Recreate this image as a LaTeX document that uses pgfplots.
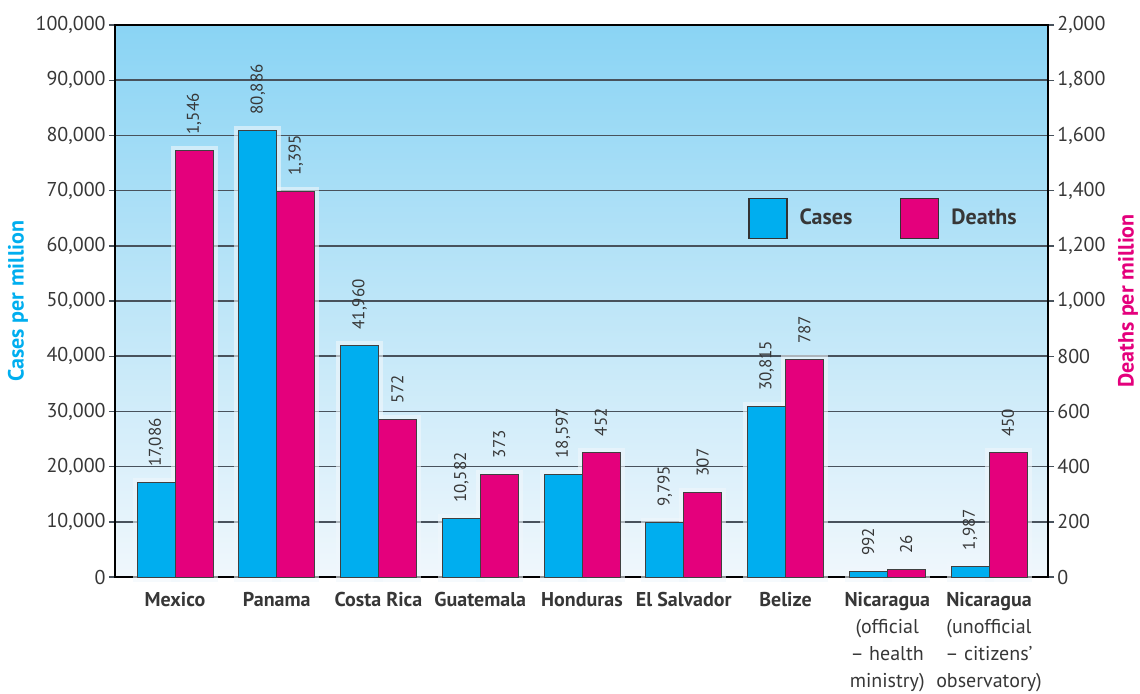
\documentclass[border=0pt]{standalone}
\usepackage{fontspec}
\setmainfont{PT Sans}
\usepackage{pgfplots}
\pgfplotsset{compat=1.18}
\definecolor{cyanbar}{RGB}{0,174,239}
\definecolor{magbar}{RGB}{228,0,124}
\definecolor{bgtop}{RGB}{138,212,244}
\definecolor{bgbot}{RGB}{240,247,252}
\definecolor{gridc}{RGB}{72,82,92}
\definecolor{labc}{RGB}{55,55,55}
\begin{document}
\begin{tikzpicture}
\pgfplotsset{
  common/.style={
    set layers=standard,
    scale only axis, width=466.5pt, height=276pt,
    at={(0,0)}, anchor=south west,
    xmin=-0.59, xmax=8.58, ymin=0,
    axis line style={black, line width=1pt},
    tick align=outside, major tick length=3pt,
    tick style={gridc, line width=0.7pt},
    scaled y ticks=false,
    /pgf/number format/.cd, fixed, 1000 sep={,}, assume math mode=true,
    /pgfplots/.cd,
    tick label style={font=\fontsize{10}{12}\selectfont, text=labc},
    yticklabel style={inner xsep=1.5pt},
    ybar, bar width=19pt,
  },
  halo/.style={draw=bgbot, draw opacity=0.6, line width=4.5pt, fill=none, on layer=pre main, forget plot},
  vals/.style={nodes near coords,
    nodes near coords style={rotate=90, anchor=west, outer xsep=7pt, inner sep=1pt,
      font=\fontsize{8.5}{10}\selectfont, text=labc,
      /pgf/number format/fixed, /pgf/number format/1000 sep={,}}},
}
\begin{axis}[common,
  ymax=100000, ytick distance=10000, ytick pos=left,
  ymajorgrids, grid style={gridc, line width=0.8pt},
  axis background/.style={top color=bgtop, bottom color=bgbot},
  xtick={0,...,8}, x tick style={draw=none},
  xticklabel style={align=center, anchor=north, yshift=-1pt,
    font=\fontsize{10}{13.5}\selectfont, text=labc},
  xticklabels={{\textbf{Mexico}},{\textbf{Panama}},{\textbf{Costa Rica}},{\textbf{Guatemala}},{\textbf{Honduras}},{\textbf{El Salvador}},{\textbf{Belize}},
    {\textbf{Nicaragua}\\(official\\– health\\ministry)},
    {\textbf{Nicaragua}\\(unofficial\\– citizens’\\observatory)}},
  ylabel={\textbf{Cases per million}},
  ylabel style={at={(rel axis cs:0,0.5)}, yshift=48.5pt, anchor=center, text=cyanbar,
    font=\fontsize{11}{13}\selectfont},
]
\addplot[halo, bar shift=-9.5pt] coordinates {(0,17086) (1,80886) (2,41960) (3,10582) (4,18597) (5,9795) (6,30815) (7,992) (8,1987)};
\addplot[fill=cyanbar, draw=black!75, line width=0.5pt, bar shift=-9.5pt, vals]
  coordinates {(0,17086) (1,80886) (2,41960) (3,10582) (4,18597) (5,9795) (6,30815) (7,992) (8,1987)};
\end{axis}
\begin{axis}[common,
  ymax=2000, ytick distance=200, ytick pos=right,
  xtick=\empty,
  ylabel={\textbf{Deaths per million}},
  ylabel style={at={(rel axis cs:1,0.5)}, yshift=-40pt, anchor=center, text=magbar,
    font=\fontsize{11}{13}\selectfont},
  legend style={at={(0.672,0.65)}, anchor=west, draw=none, fill=none,
    legend columns=2, font=\fontsize{11}{13}\selectfont\bfseries, text=labc,
    nodes={inner xsep=6pt},
    /tikz/every even column/.append style={column sep=18pt}},
  legend image code/.code={\draw[#1, draw=black!80, line width=0.6pt] (0pt,-10pt) rectangle (19pt,10pt);},
]
\addlegendimage{fill=cyanbar}
\addlegendentry{Cases}
\addplot[halo, bar shift=9.5pt] coordinates {(0,1546) (1,1395) (2,572) (3,373) (4,452) (5,307) (6,787) (7,26) (8,450)};
\addplot[fill=magbar, draw=black!75, line width=0.5pt, bar shift=9.5pt, vals]
  coordinates {(0,1546) (1,1395) (2,572) (3,373) (4,452) (5,307) (6,787) (7,26) (8,450)};
\addlegendentry{Deaths}
\end{axis}
\pgfresetboundingbox
\path[use as bounding box] (-57.5pt,-58pt) rectangle (512.5pt,288.5pt);
\end{tikzpicture}
\end{document}
